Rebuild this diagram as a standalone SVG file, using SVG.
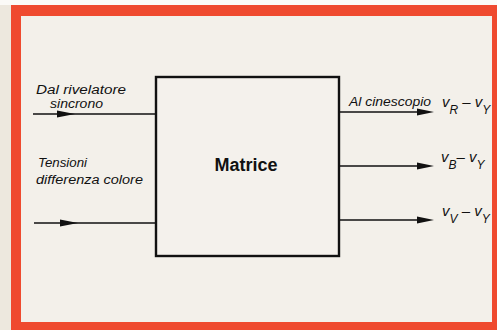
<svg xmlns="http://www.w3.org/2000/svg" width="497" height="330" viewBox="0 0 497 330">
<style>
.lbl{font-family:"Liberation Sans",Arial,sans-serif;font-style:italic;font-size:12.5px;fill:#111}
.sig{font-family:"Liberation Sans",Arial,sans-serif;font-style:italic;font-size:15px;fill:#111}
.sub{font-size:12px}
.ttl{font-family:"Liberation Sans",Arial,sans-serif;font-weight:bold;font-size:18px;fill:#111}
.wire{stroke:#111;stroke-width:1.6;fill:none}
.head{fill:#111}
</style>
<rect x="0" y="0" width="497" height="330" fill="#ede8de"/>
<rect x="0" y="0" width="497" height="5" fill="#fbfaf7"/>
<rect x="11" y="5" width="486" height="325" fill="#ef4a2f"/>
<rect x="21" y="16" width="471" height="306" fill="#f3f0ea"/>
<g id="matrice">
<rect x="156" y="77" width="183" height="179" fill="#f4f1ec" stroke="#111" stroke-width="2.4"/>
<text class="ttl" x="246" y="171" text-anchor="middle">Matrice</text>
</g>
<g id="in1">
<text class="lbl" x="36" y="94" textLength="90" lengthAdjust="spacingAndGlyphs">Dal rivelatore</text>
<text class="lbl" x="50" y="108" textLength="53" lengthAdjust="spacingAndGlyphs">sincrono</text>
</g>
<g id="in2">
<text class="lbl" x="38" y="167" textLength="49" lengthAdjust="spacingAndGlyphs">Tensioni</text>
<text class="lbl" x="36" y="184" textLength="107" lengthAdjust="spacingAndGlyphs">differenza colore</text>
</g>
<g id="out1">
<text class="lbl" x="349" y="106" textLength="82" lengthAdjust="spacingAndGlyphs">Al cinescopio</text>
<text class="sig" x="442" y="107">v<tspan class="sub" dy="7">R</tspan><tspan dy="-7"> – v</tspan><tspan class="sub" dy="7">Y</tspan></text>
</g>
<g id="out2">
<text class="sig" x="441" y="162">v<tspan class="sub" dy="7">B</tspan><tspan dy="-7">– v</tspan><tspan class="sub" dy="7">Y</tspan></text>
</g>
<g id="out3">
<text class="sig" x="442" y="216">v<tspan class="sub" dy="7">V</tspan><tspan dy="-7"> – v</tspan><tspan class="sub" dy="7">Y</tspan></text>
</g>
<g id="connectors">
<line class="wire" x1="33" y1="114" x2="156" y2="114"/>
<polygon class="head" points="57,110.5 75,114 57,117.5"/>
<line class="wire" x1="34" y1="223" x2="156" y2="223"/>
<polygon class="head" points="60,219.5 78,223 60,226.5"/>
<line class="wire" x1="339" y1="112" x2="420" y2="112"/>
<polygon class="head" points="417,108.5 434,112 417,115.5"/>
<line class="wire" x1="339" y1="166" x2="420" y2="166"/>
<polygon class="head" points="417,162.5 434,166 417,169.5"/>
<line class="wire" x1="339" y1="220" x2="420" y2="220"/>
<polygon class="head" points="417,216.5 434,220 417,223.5"/>
</g>
</svg>
